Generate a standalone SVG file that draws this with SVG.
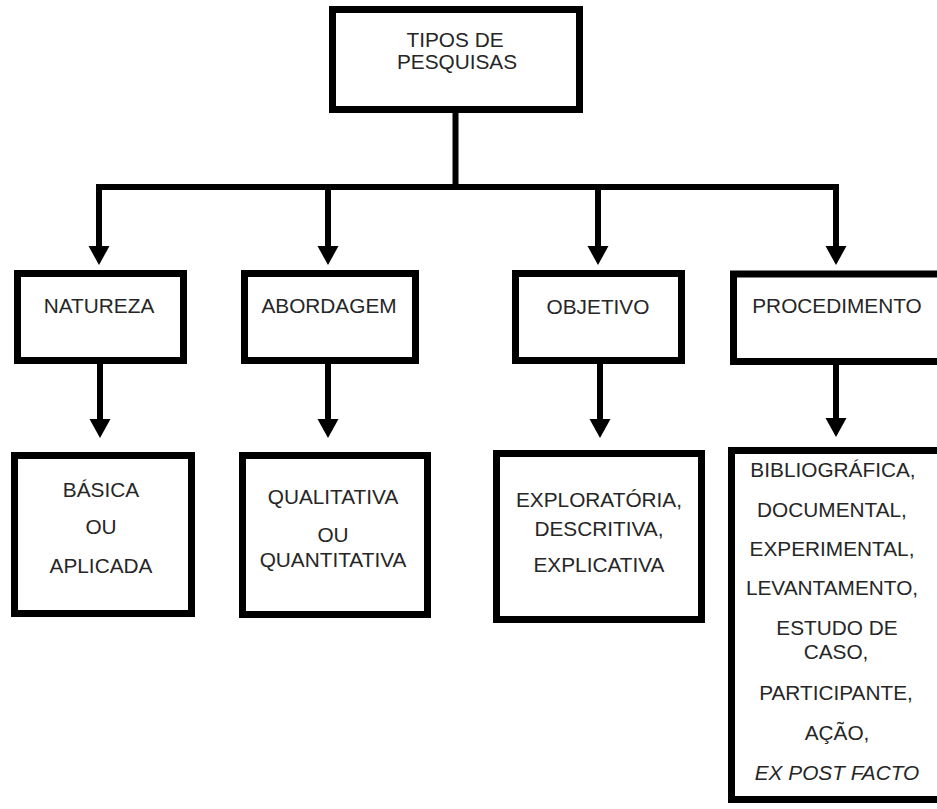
<svg xmlns="http://www.w3.org/2000/svg" width="937" height="809" viewBox="0 0 937 809">
  <style>
    .box { fill: #ffffff; stroke: #000000; stroke-width: 7; }
    .wire { fill: none; stroke: #000000; stroke-width: 6; stroke-linejoin: miter; }
    text { font-family: "Liberation Sans", Arial, sans-serif; font-size: 20.8px; fill: #262626; text-anchor: middle; }
    .it { font-style: italic; }
  </style>
  <defs>
    <marker id="head" markerUnits="userSpaceOnUse" markerWidth="20" markerHeight="22" viewBox="0 -11 20 22" refX="0" refY="0" orient="auto">
      <path d="M0,-10.5 L19,0 L0,10.5 z" fill="#000000"/>
    </marker>
  </defs>

  <rect width="937" height="809" fill="#ffffff"/>

  <!-- connectors: trunk, bus and arrows into each box -->
  <g id="connectors">
    <path class="wire" d="M455.5,113 V187"/>
    <path class="wire" d="M99,246 V187 H836 V246"/>
    <path class="wire" d="M836,187 V246" marker-end="url(#head)"/>
    <path class="wire" d="M99,187 V246" marker-end="url(#head)"/>
    <path class="wire" d="M328,187 V246" marker-end="url(#head)"/>
    <path class="wire" d="M598,187 V246" marker-end="url(#head)"/>
    <path class="wire" d="M100,364 V419" marker-end="url(#head)"/>
    <path class="wire" d="M328,364 V419" marker-end="url(#head)"/>
    <path class="wire" d="M600,364 V419" marker-end="url(#head)"/>
    <path class="wire" d="M836,364 V418" marker-end="url(#head)"/>
  </g>

  <!-- root -->
  <g id="tipos">
    <rect class="box" x="332.5" y="9.5" width="247" height="100"/>
    <text x="455" y="47">TIPOS DE</text>
    <text x="457" y="69">PESQUISAS</text>
  </g>

  <!-- categories -->
  <g id="natureza">
    <rect class="box" x="17.5" y="273.5" width="166" height="87"/>
    <text x="99" y="313">NATUREZA</text>
  </g>
  <g id="abordagem">
    <rect class="box" x="244.5" y="273.5" width="171" height="87"/>
    <text x="329" y="313">ABORDAGEM</text>
  </g>
  <g id="objetivo">
    <rect class="box" x="515.5" y="273.5" width="166" height="87"/>
    <text x="598" y="314">OBJETIVO</text>
  </g>
  <g id="procedimento">
    <rect class="box" x="733.5" y="274" width="220" height="87.5"/>
    <text x="837" y="313">PROCEDIMENTO</text>
  </g>

  <!-- values -->
  <g id="natureza-valores">
    <rect class="box" x="14.5" y="455.5" width="177" height="158"/>
    <text x="101" y="497">BÁSICA</text>
    <text x="101" y="534">OU</text>
    <text x="101" y="573">APLICADA</text>
  </g>
  <g id="abordagem-valores">
    <rect class="box" x="242.5" y="455.5" width="185" height="159"/>
    <text x="333" y="504">QUALITATIVA</text>
    <text x="333" y="542">OU</text>
    <text x="333" y="567">QUANTITATIVA</text>
  </g>
  <g id="objetivo-valores">
    <rect class="box" x="496.5" y="453.5" width="205" height="166"/>
    <text x="599" y="507">EXPLORATÓRIA,</text>
    <text x="599" y="536">DESCRITIVA,</text>
    <text x="599" y="572">EXPLICATIVA</text>
  </g>
  <g id="procedimento-valores">
    <rect class="box" x="731.5" y="450.5" width="220" height="349"/>
    <text x="833" y="477">BIBLIOGRÁFICA,</text>
    <text x="832" y="517">DOCUMENTAL,</text>
    <text x="832" y="556">EXPERIMENTAL,</text>
    <text x="832" y="595">LEVANTAMENTO,</text>
    <text x="837" y="635">ESTUDO DE</text>
    <text x="836" y="659">CASO,</text>
    <text x="836" y="700">PARTICIPANTE,</text>
    <text x="837" y="740">AÇÃO,</text>
    <text class="it" x="837" y="780">EX POST FACTO</text>
  </g>
</svg>
